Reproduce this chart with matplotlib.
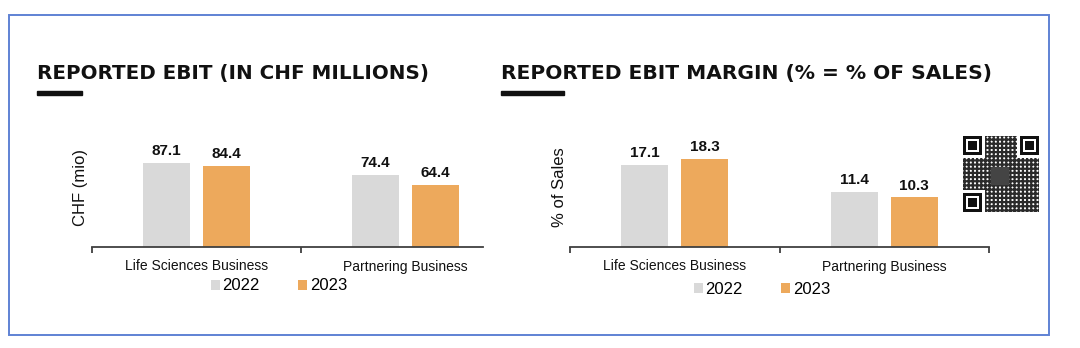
import matplotlib
matplotlib.use("Agg")
import matplotlib.pyplot as plt
from matplotlib.patches import Rectangle, Patch
import numpy as np

categories = ["Life Sciences Business", "Partnering Business"]
years = ["2022", "2023"]
ebit_2022 = [87.1, 74.4]
ebit_2023 = [84.4, 64.4]
margin_2022 = [17.1, 11.4]
margin_2023 = [18.3, 10.3]

C22 = "#D9D9D9"
C23 = "#EDA95C"
AX = "#404040"

plt.rcParams["hatch.linewidth"] = 1.6

W, H = 1080, 348
fig = plt.figure(figsize=(W / 100, H / 100), dpi=100)
fig.patch.set_facecolor("white")

def px_ax(x0, x1, y_base, height):
    return fig.add_axes([x0 / W, (H - y_base) / H, (x1 - x0) / W, height / H])

# border
fig.patches.append(Rectangle((9 / W, (H - 335) / H), (1049 - 9) / W, (335 - 15) / H,
                             transform=fig.transFigure, fill=False,
                             edgecolor="#5F82D4", linewidth=1.4))

LAB = "Liberation Sans"

def draw(ax, v22, v23, ymax, ylabel, xmax, x0px, ylab_x, ylab_y):
    x = np.arange(len(categories))
    bw = 0.225
    off = 0.1435
    b1 = ax.bar(x - off, v22, bw, color=C22, label=years[0])
    b2 = ax.bar(x + off, v23, bw, color=C23, label=years[1])
    for bars, vals in ((b1, v22), (b2, v23)):
        for r, v in zip(bars, vals):
            ax.annotate(f"{v:.1f}", (r.get_x() + r.get_width() / 2, r.get_height()),
                        xytext=(0, 3.5), textcoords="offset points",
                        ha="center", va="bottom", fontsize=11, fontweight="bold",
                        family=LAB, color="#111111")
    ax.set_xlim(-0.5, xmax)
    ax.set_ylim(0, ymax)
    for s in ("top", "right", "left"):
        ax.spines[s].set_visible(False)
    ax.spines["bottom"].set_color(AX)
    ax.spines["bottom"].set_linewidth(1.3)
    ax.set_yticks([])
    ax.set_xticks(x)
    ax.set_xticklabels(categories, fontsize=10, family=LAB, color="#111111")
    ax.tick_params(axis="x", which="major", length=0, pad=9)
    ticks = [t for t in (-0.5, 0.5, 1.5) if t <= xmax + 1e-9]
    ax.set_xticks(ticks, minor=True)
    ax.tick_params(axis="x", which="minor", length=4, width=1.3, color=AX, direction="out")
    ax.set_ylabel(ylabel, fontsize=12, family=LAB, color="#111111", va="center")
    bb = ax.get_position()
    wpx = bb.width * W
    hpx = bb.height * H
    ytop = H - (bb.y0 + bb.height) * H
    ax.yaxis.set_label_coords((ylab_x - x0px) / wpx, 1 - (ylab_y - ytop) / hpx)
    ax.patch.set_alpha(0)
    return b1, b2

# left chart
axL = px_ax(92, 483, 247, 130)
draw(axL, ebit_2022, ebit_2023, 130 / 0.9644, "CHF (mio)", -0.5 + 391 / 209, 92, 81, 187.5)
# right chart
axR = px_ax(570, 989, 247, 130)
draw(axR, margin_2022, margin_2023, 130 / 4.81, "% of Sales", 1.5, 570, 559, 187)

# legends
handles = [Patch(facecolor=C22, edgecolor="none"), Patch(facecolor=C23, edgecolor="none")]
for cx, cy in ((279, 286), (762, 289)):
    fig.legend(handles, years, loc="center", bbox_to_anchor=(cx / W, (H - cy) / H),
               ncol=2, frameon=False, handlelength=0.55, handleheight=0.55,
               handletextpad=0.15, columnspacing=2.3,
               prop={"family": LAB, "size": 12})

# titles
TF = "DejaVu Sans"
fig.text(37 / W, (H - 73) / H, "REPORTED EBIT (IN CHF MILLIONS)", fontsize=14.3,
         fontweight="bold", family=TF, va="center", ha="left", color="#111111")
fig.text(501 / W, (H - 73) / H, "REPORTED EBIT MARGIN (% = % OF SALES)", fontsize=14.6,
         fontweight="bold", family=TF, va="center", ha="left", color="#111111")
for x0, x1 in ((37, 82), (501, 564)):
    fig.patches.append(Rectangle((x0 / W, (H - 95) / H), (x1 - x0) / W, 4 / H,
                                 transform=fig.transFigure, color="#111111"))

# QR-code-like decoration
def finder(x0, y0, s):
    for k, c in ((-1, "white"), (0, "#111111"), (1, "white"), (2, "#111111")):
        d = s * k / 7
        fig.patches.append(Rectangle(((x0 + d) / W, (H - (y0 + s - d)) / H),
                                     (s - 2 * d) / W, (s - 2 * d) / H,
                                     transform=fig.transFigure, color=c, linewidth=0))
qx0, qy0, qs = 963, 136, 76
fs = 19
fig.patches.append(Rectangle((qx0 / W, (H - (qy0 + qs)) / H), qs / W, qs / H,
                             transform=fig.transFigure, facecolor="white",
                             edgecolor="#2a2a2a", hatch="++++", linewidth=0))
finder(qx0, qy0, fs)
finder(qx0 + qs - fs, qy0, fs)
finder(qx0, qy0 + qs - fs, fs)
fig.patches.append(Rectangle((991 / W, (H - 184) / H), 17 / W, 17 / H,
                             transform=fig.transFigure, color="#444444"))

fig.savefig("out.png", dpi=100)
